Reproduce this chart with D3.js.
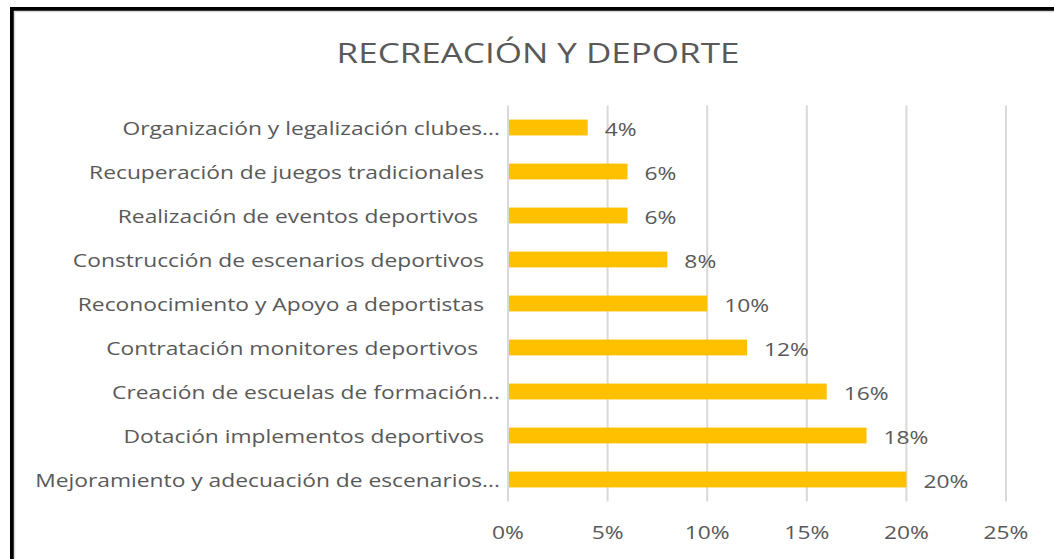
<!DOCTYPE html>
<html>
<head>
<meta charset="utf-8">
<script src="https://cdn.jsdelivr.net/npm/d3@7"></script>
<style>
  html, body { margin: 0; padding: 0; background: #fff; overflow: hidden; }
  text { font-family: "Open Sans", sans-serif; fill: #595959; }
</style>
</head>
<body>
<svg id="chart"></svg>
<script>
// data (top to bottom)
const categories = [
  'Organización y legalización clubes...',
  'Recuperación de juegos tradicionales',
  'Realización de eventos deportivos ',
  'Construcción de escenarios deportivos',
  'Reconocimiento y Apoyo a deportistas',
  'Contratación monitores deportivos ',
  'Creación de escuelas de formación...',
  'Dotación implementos deportivos',
  'Mejoramiento y adecuación de escenarios...'
];
const values = [0.04, 0.06, 0.06, 0.08, 0.10, 0.12, 0.16, 0.18, 0.20];
const ticks = [0, 0.05, 0.10, 0.15, 0.20, 0.25];
const title = 'RECREACIÓN Y DEPORTE';

const width = 1054;
const height = 559;
const svg = d3.select('#chart').attr('width', width).attr('height', height);

// the original screenshot is stretched sideways, so text gets widened a bit
const stretch = 1.2;
const place = (px, py, sx = stretch) => `translate(${px},${py}) scale(${sx},1)`;

// frame: thick black edge on the left and top, thin grey chart border inside
svg.append('rect')
  .attr('x', 12).attr('y', 9)
  .attr('width', width + 20).attr('height', height + 20)
  .attr('fill', '#fff')
  .attr('stroke', '#000')
  .attr('stroke-width', 4);
svg.append('rect')
  .attr('x', 14.5).attr('y', 11.5)
  .attr('width', width + 20).attr('height', height + 20)
  .attr('fill', 'none')
  .attr('stroke', '#d9d9d9')
  .attr('stroke-width', 1.5);

const plot = { left: 508, right: 1006, top: 105.5, bottom: 501.5 };

const x = d3.scaleLinear().domain([0, 0.25]).range([plot.left, plot.right]);
const y = d3.scaleBand().domain(categories).range([plot.top, plot.bottom]).paddingInner(0.64).paddingOuter(0.32);

const pct = d3.format('.0%');

// title
svg.append('text')
  .attr('transform', place(538, 63, 1.25))
  .attr('text-anchor', 'middle')
  .style('font-size', '28px')
  .text(title);

// gridlines
svg.append('g').selectAll('line')
  .data(ticks)
  .enter().append('line')
  .attr('x1', (d) => x(d)).attr('x2', (d) => x(d))
  .attr('y1', plot.top).attr('y2', plot.bottom)
  .attr('stroke', '#d9d9d9')
  .attr('stroke-width', 2);

// x tick labels
svg.append('g').selectAll('text')
  .data(ticks)
  .enter().append('text')
  .attr('transform', (d) => place(x(d), 539))
  .attr('text-anchor', 'middle')
  .style('font-size', '19px')
  .text(pct);

// bars
svg.append('g').selectAll('rect')
  .data(values)
  .enter().append('rect')
  .attr('x', x(0) + 1)
  .attr('y', (d, i) => y(categories[i]))
  .attr('width', (d) => x(d) - x(0) - 1)
  .attr('height', y.bandwidth())
  .attr('fill', '#ffc000');

// value labels
svg.append('g').selectAll('text')
  .data(values)
  .enter().append('text')
  .attr('transform', (d, i) => place(x(d) + 17, y(categories[i]) + y.bandwidth() / 2 + 8))
  .style('font-size', '19px')
  .text(pct);

// category labels, truncated ones sit a little further right (Excel does this)
svg.append('g').selectAll('text')
  .data(categories)
  .enter().append('text')
  .attr('xml:space', 'preserve')
  .attr('transform', (d) => place(d.endsWith('...') ? 500 : 484, y(d) + y.bandwidth() / 2 + 7.5))
  .attr('text-anchor', 'end')
  .style('font-size', '19px')
  .text((d) => d);
</script>
</body>
</html>
